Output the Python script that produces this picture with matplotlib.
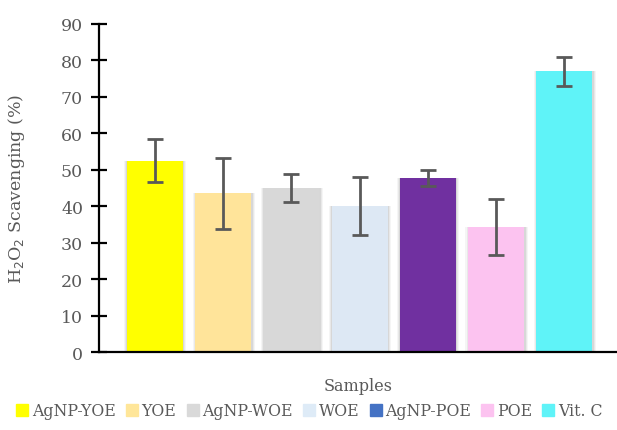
import numpy as np
import matplotlib.pyplot as plt
from matplotlib.lines import Line2D

# data
samples = ['AgNP-YOE', 'YOE', 'AgNP-WOE', 'WOE', 'AgNP-POE', 'POE', 'Vit. C']
scavenging = [52.5, 43.5, 45.0, 40.0, 47.8, 34.4, 76.9]
errors = [5.9, 9.6, 3.9, 8.0, 2.2, 7.7, 3.9]
bar_colors = ['#FFFF00', '#FFE49A', '#D8D8D8', '#DDE8F4', '#7030A0', '#FCC3F0', '#5FF3F8']
legend_colors = ['#FFFF00', '#FFE699', '#D9D9D9', '#DEEBF7', '#4472C4', '#FCC3F0', '#5FF3F8']

plt.rcParams['font.family'] = ['DejaVu Serif']
grey = '#595959'

fig = plt.figure(figsize=(6.17, 4.31), dpi=100)
ax = fig.add_axes([0.1605, 0.180, 0.8395, 0.763])

x = np.arange(len(samples))
width = 0.82

# soft shadow behind the bars
for extra, a in [(0.09, 0.04), (0.06, 0.05), (0.03, 0.07)]:
    ax.bar(x + 0.005, scavenging, width + extra, color='black', alpha=a, zorder=1, linewidth=0)

ax.bar(x, scavenging, width, color=bar_colors, zorder=2, linewidth=0)
ax.errorbar(x, scavenging, yerr=errors, fmt='none', ecolor=grey, elinewidth=2,
            capsize=5.5, capthick=2, zorder=3)

ax.set_xlim(-0.82, 6.77)
ax.set_ylim(0, 90)
ax.set_yticks(range(0, 91, 10))
ax.set_xticks([])
ax.tick_params(axis='y', direction='inout', length=11, width=1.6, colors='black',
               labelcolor=grey, labelsize=12.5, pad=6)

for s in ['top', 'right']:
    ax.spines[s].set_visible(False)
ax.spines['left'].set_linewidth(1.6)
ax.spines['bottom'].set_linewidth(1.6)

ax.set_ylabel(r'H$_2$O$_2$ Scavenging (%)', fontsize=12.5, color=grey)
ax.yaxis.set_label_coords(-0.14, 0.5)
ax.set_xlabel('Samples', fontsize=11.5, color=grey)
ax.xaxis.set_label_coords(0.5, -0.075)

handles = [Line2D([], [], marker='s', linestyle='none', markersize=9,
                  markerfacecolor=c, markeredgecolor=c) for c in legend_colors]
fig.legend(handles, samples, loc='center', bbox_to_anchor=(0.5, 0.045), ncol=7,
           frameon=False, handletextpad=0.1, columnspacing=0.55, handlelength=1.0,
           fontsize=11.3, labelcolor=grey, borderaxespad=0, borderpad=0)

fig.savefig('out.png', dpi=100)
